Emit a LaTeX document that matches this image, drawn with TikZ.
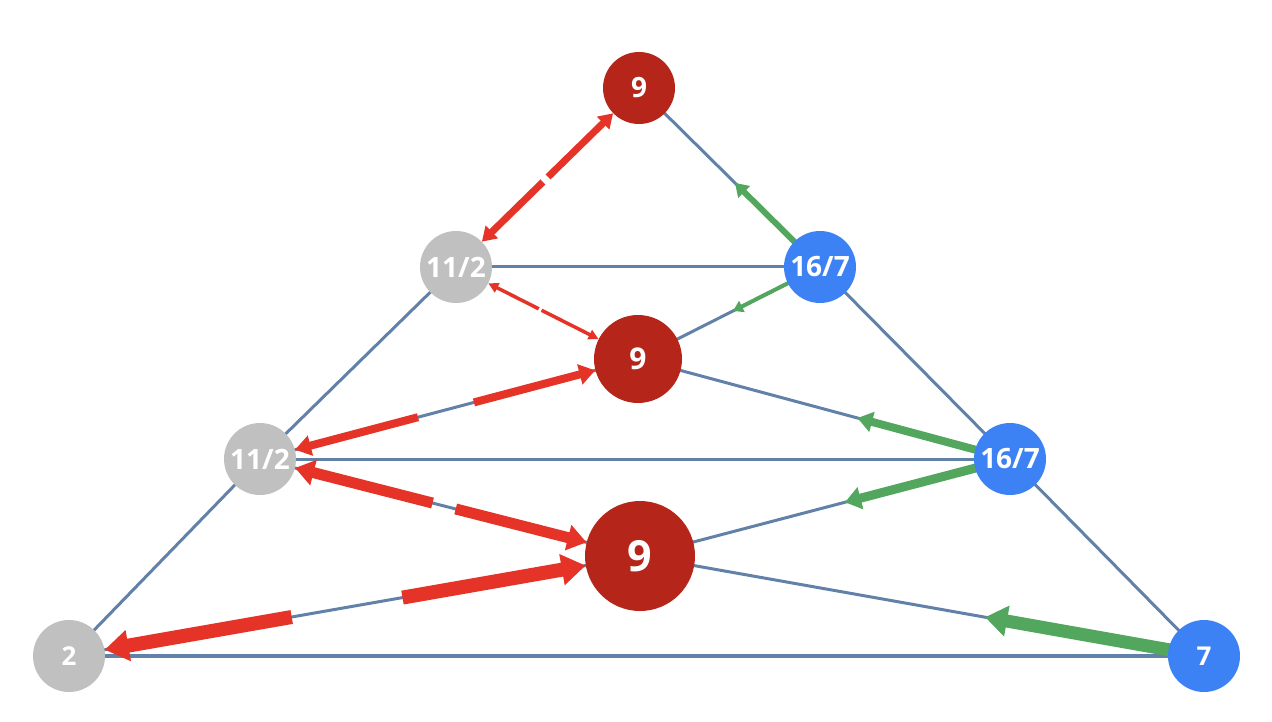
\documentclass[tikz,border=0pt]{standalone}
\usepackage{fontspec}
\setmainfont{Open Sans}
\usetikzlibrary{arrows.meta,calc}
\pgfdeclarelayer{bg}
\pgfsetlayers{bg,main}
\definecolor{nred}{HTML}{B5251A}
\definecolor{ared}{HTML}{E63327}
\definecolor{ngray}{HTML}{C0C0C0}
\definecolor{nblue}{HTML}{3D82F5}
\definecolor{agreen}{HTML}{52A65D}
\definecolor{edge}{HTML}{6281A8}
\begin{document}
\begin{tikzpicture}[x=1pt,y=-1pt,
  vnode/.style={circle,inner sep=0pt,minimum size=72pt,text=white,font=\bfseries\fontsize{28}{28}\selectfont},
  rednode/.style={vnode,fill=nred},
  graynode/.style={vnode,fill=ngray},
  bluenode/.style={vnode,fill=nblue},
  edgeline/.style={draw=edge,line width=3pt},
  redarr/.style={draw=ared},
  greenarr/.style={draw=agreen}]
\useasboundingbox (0,0) rectangle (1272,722);
% nodes
\node[rednode] (t9) at (639,88) {9};
\node[graynode] (g1) at (456,267) {11/2};
\node[bluenode] (b1) at (820,267) {16/7};
\node[rednode,minimum size=88pt,font=\bfseries\fontsize{30}{30}\selectfont] (m9) at (638,359) {9};
\node[graynode] (g2) at (260,459) {11/2};
\node[bluenode] (b2) at (1010,459) {16/7};
\node[rednode,minimum size=110pt,font=\bfseries\fontsize{43}{43}\selectfont] (B9) at (640,556) {9};
\node[graynode,font=\bfseries\fontsize{26}{26}\selectfont] (g3) at (69,656) {2};
\node[bluenode,font=\bfseries\fontsize{26}{26}\selectfont] (b3) at (1204,656) {7};
\begin{pgfonlayer}{bg}
% edges
\path[edgeline] (t9.center) -- (b1.center);
\path[edgeline] (g1.center) -- (b1.center);
\path[edgeline] (b1.center) -- (m9.center);
\path[edgeline] (g1.center) -- (g2.center);
\path[edgeline] (b1.center) -- (b2.center);
\path[edgeline] (m9.center) -- (b2.center);
\path[edgeline] (m9.center) -- (g2.center);
\path[edgeline] (g2.center) -- (b2.center);
\path[edgeline] (g2.center) -- (B9.center);
\path[edgeline] (B9.center) -- (b2.center);
\path[edgeline] (g2.center) -- (g3.center);
\path[edgeline,line width=4pt] (g3.center) -- (b3.center);
\path[edgeline] (g3.center) -- (B9.center);
\path[edgeline] (B9.center) -- (b3.center);
\path[edgeline] (b2.center) -- (b3.center);
% green arrows
\path[greenarr,line width=6pt,-{Triangle[length=13pt,width=16pt]}] (b1.center) -- ($(b1.center)!0.47!(t9.center)$);
\path[greenarr,line width=4pt,-{Triangle[length=10pt,width=12pt]}] (b1.center) -- ($(b1.center)!0.478!(m9.center)$);
\path[greenarr,line width=8pt,-{Triangle[length=15pt,width=20pt]}] (b2.center) -- ($(b2.center)!0.41!(m9.center)$);
\path[greenarr,line width=9pt,-{Triangle[length=16pt,width=22pt]}] (b2.center) -- ($(b2.center)!0.446!(B9.center)$);
\path[greenarr,line width=13pt,-{Triangle[length=22pt,width=30pt]}] (b3.center) -- ($(b3.center)!0.388!(B9.center)$);
% red arrows
\path[redarr,line width=7pt,-{Triangle[length=14pt,width=17pt]}] ($(t9.center)!0.497!(g1.center)$) -- (t9);
\path[redarr,line width=7pt,-{Triangle[length=14pt,width=17pt]}] ($(t9.center)!0.525!(g1.center)$) -- (g1);
\path[redarr,line width=3.5pt,-{Triangle[length=10pt,width=10pt]}] ($(m9.center)!0.53!(g1.center)$) -- (m9);
\path[redarr,line width=3.5pt,-{Triangle[length=10pt,width=10pt]}] ($(m9.center)!0.545!(g1.center)$) -- (g1);
\path[redarr,line width=8pt,-{Triangle[length=16pt,width=20pt]}] ($(m9.center)!0.434!(g2.center)$) -- (m9);
\path[redarr,line width=8pt,-{Triangle[length=16pt,width=20pt]}] ($(m9.center)!0.582!(g2.center)$) -- (g2);
\path[redarr,line width=11pt,-{Triangle[length=19pt,width=25pt]}] ($(B9.center)!0.485!(g2.center)$) -- (B9);
\path[redarr,line width=11pt,-{Triangle[length=19pt,width=25pt]}] ($(B9.center)!0.546!(g2.center)$) -- (g2);
\path[redarr,line width=14pt,-{Triangle[length=24pt,width=30pt]}] ($(B9.center)!0.416!(g3.center)$) -- (B9);
\path[redarr,line width=14pt,-{Triangle[length=24pt,width=30pt]}] ($(B9.center)!0.61!(g3.center)$) -- (g3);
\end{pgfonlayer}
\end{tikzpicture}
\end{document}
